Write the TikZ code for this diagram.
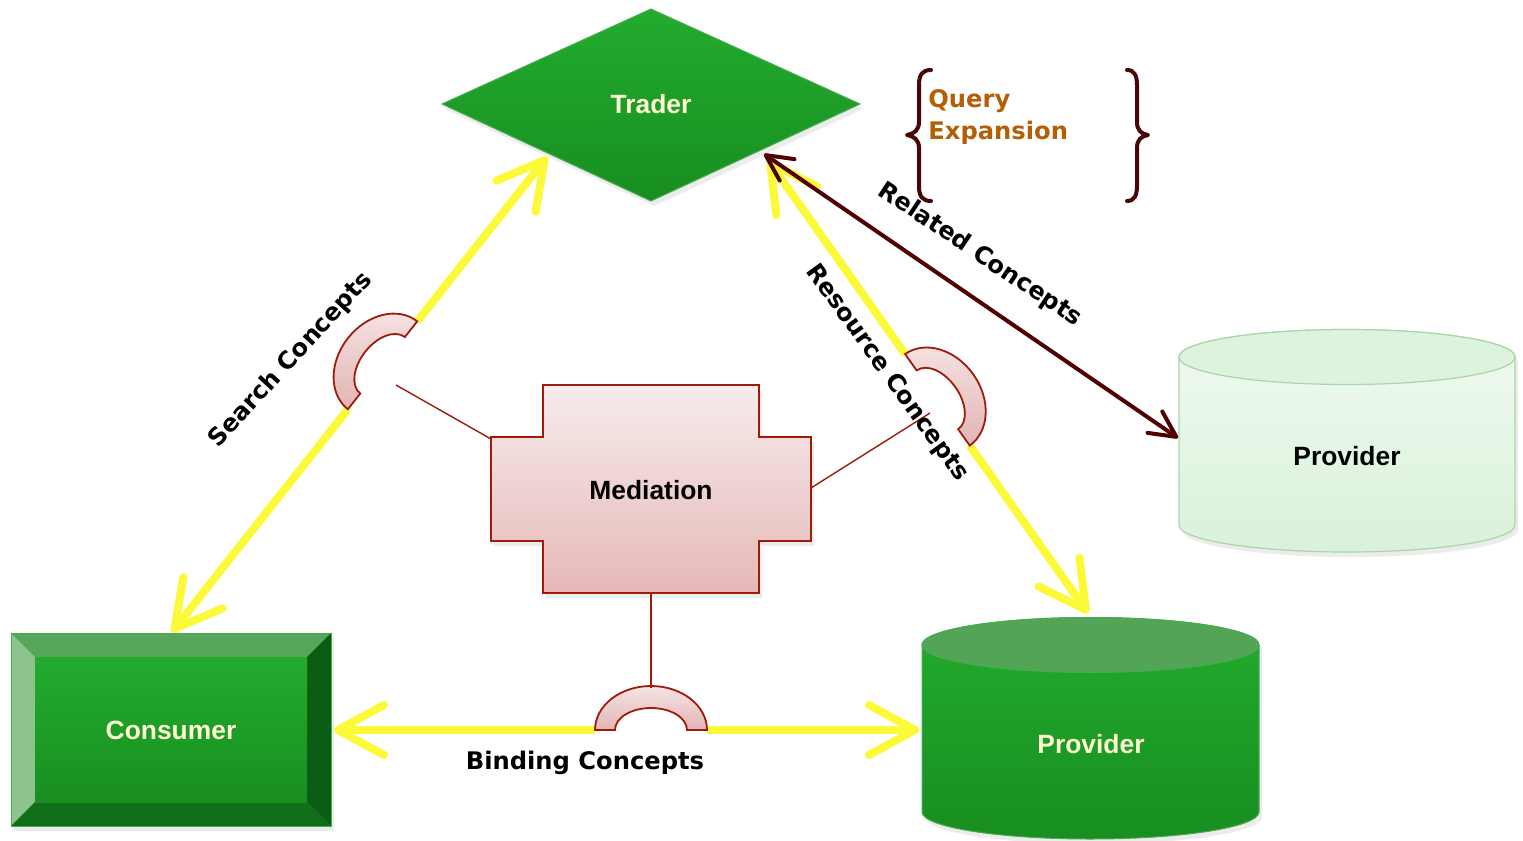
\documentclass[tikz,border=0pt]{standalone}
\usepackage{fontspec}
\setmainfont{Liberation Sans}
\newfontfamily\labfont{DejaVu Sans}
\usetikzlibrary{arrows.meta,calc,shadows}

\definecolor{ygreen}{RGB}{34,172,46}
\definecolor{dgreen}{RGB}{24,142,32}
\definecolor{capgreen}{RGB}{84,164,88}
\definecolor{edgegreen}{RGB}{70,172,78}
\definecolor{bevtop}{RGB}{87,166,91}
\definecolor{bevleft}{RGB}{140,195,142}
\definecolor{bevright}{RGB}{10,93,18}
\definecolor{bevbot}{RGB}{15,110,23}
\definecolor{ltop}{RGB}{240,250,240}
\definecolor{lbot}{RGB}{218,241,218}
\definecolor{lcap}{RGB}{222,243,222}
\definecolor{ledge}{RGB}{168,214,168}
\definecolor{medtop}{RGB}{247,236,236}
\definecolor{medbot}{RGB}{230,184,184}
\definecolor{medline}{RGB}{158,27,12}
\definecolor{ringtop}{RGB}{246,228,228}
\definecolor{ringbot}{RGB}{226,180,180}
\definecolor{arrowyellow}{RGB}{252,250,56}
\definecolor{mymaroon}{RGB}{80,0,0}
\definecolor{cream}{RGB}{255,251,210}
\definecolor{qorange}{RGB}{180,95,6}
\definecolor{bracecol}{RGB}{74,5,5}

\tikzset{
  ybarb/.tip={Straight Barb[length=23pt,width=25pt,round]},
  mbarb/.tip={Straight Barb[length=13pt,width=13pt,round]},
  nodetext/.style={font=\fontsize{13.2}{16}\selectfont\bfseries, text=cream, inner sep=0pt},
  darktext/.style={font=\fontsize{13.2}{16}\selectfont\bfseries, text=black, inner sep=0pt},
  labeltext/.style={font=\labfont\bfseries\fontsize{12.1}{14}\selectfont, inner sep=0pt},
  qtext/.style={font=\labfont\bfseries\fontsize{12.1}{15}\selectfont, text=qorange, inner sep=0pt},
  yarrow/.style={draw=arrowyellow, line width=4pt},
  marrow/.style={draw=mymaroon, line width=2pt},
  ringshape/.style={draw=medline, line width=0.9pt, top color=ringtop, bottom color=ringbot},
  medconn/.style={draw=medline, line width=0.7pt},
  shadowed/.style={drop shadow={opacity=0.15, shadow xshift=1.5pt, shadow yshift=-2.5pt}},
  bracestyle/.style={draw=bracecol, line width=2pt, line cap=round, line join=round},
}

\newcommand\hopring{%
  (28pt,0pt) arc[start angle=0,end angle=180,x radius=28pt,y radius=22pt]
  -- (-18pt,0pt) arc[start angle=180,end angle=0,x radius=18pt,y radius=11pt] -- cycle}

\begin{document}
\begin{tikzpicture}[x=0.5pt,y=-0.5pt]
\useasboundingbox (0,0) rectangle (1523,841);
\fill[white] (0,0) rectangle (1523,841);

% ---------- Trader ----------
\path[draw=edgegreen, line width=0.5pt, top color=ygreen, bottom color=dgreen, shadowed]
  (442,104) -- (651,9) -- (860,104) -- (651,201) -- cycle;
\node[nodetext] (trader) at (651,104) {Trader};

% ---------- Consumer ----------
\path[fill=bevtop, shadowed] (11,633) rectangle (331,826);
\fill[bevtop] (11,633) -- (331,633) -- (307,657) -- (35,657) -- cycle;
\fill[bevleft] (11,633) -- (35,657) -- (35,802) -- (11,826) -- cycle;
\fill[bevright] (331,633) -- (331,826) -- (307,802) -- (307,657) -- cycle;
\fill[bevbot] (11,826) -- (35,802) -- (307,802) -- (331,826) -- cycle;
\shade[top color=ygreen, bottom color=dgreen] (35,657) rectangle (307,802);
\draw[edgegreen, line width=0.5pt] (11,633) rectangle (331,826);
\node[nodetext] (consumer) at (171,730) {Consumer};

% ---------- Provider (green) ----------
\path[draw=edgegreen, line width=0.5pt, top color=ygreen, bottom color=dgreen, shadowed]
  (922,645) -- (922,812) arc[start angle=180,end angle=360,x radius=84.25pt,y radius=13.5pt]
  -- (1259,645) arc[start angle=0,end angle=180,x radius=84.25pt,y radius=13.75pt] -- cycle;
\draw[edgegreen, line width=0.5pt, fill=capgreen] (1090.5,645) ellipse[x radius=84.25pt, y radius=13.75pt];
\node[nodetext] (prov1) at (1091,744) {Provider};

% ---------- Provider (light) ----------
\path[draw=ledge, line width=0.6pt, top color=ltop, bottom color=lbot, shadowed]
  (1179,357) -- (1179,525) arc[start angle=180,end angle=360,x radius=84pt,y radius=13.5pt]
  -- (1515,357) arc[start angle=0,end angle=180,x radius=84pt,y radius=13.75pt] -- cycle;
\draw[ledge, line width=0.6pt, fill=lcap] (1347,357) ellipse[x radius=84pt, y radius=13.75pt];
\node[darktext] (prov2) at (1347,456) {Provider};

% ---------- Mediation ----------
\path[draw=medline, line width=1pt, top color=medtop, bottom color=medbot, shadowed]
  (543,385) -- (759,385) -- (759,437) -- (811,437) -- (811,541) -- (759,541) -- (759,593)
  -- (543,593) -- (543,541) -- (491,541) -- (491,437) -- (543,437) -- cycle;
\node[darktext] (med) at (651,490) {Mediation};

% ---------- Yellow arrows ----------
\coordinate (sA) at (172,632);
\coordinate (sB) at (547,157);
\coordinate (sH) at ($(sA)!(386,368)!(sB)$);
\draw[yarrow, {ybarb}-] (sA) -- ($(sH)!28pt!(sA)$);
\draw[yarrow, -{ybarb}] ($(sH)!28pt!(sB)$) -- (sB);

\coordinate (rA) at (768,160);
\coordinate (rB) at (1088,613);
\coordinate (rH) at ($(rA)!(940,398)!(rB)$);
\draw[yarrow, {ybarb}-] (rA) -- ($(rH)!28pt!(rA)$);
\draw[yarrow, -{ybarb}] ($(rH)!28pt!(rB)$) -- (rB);

\coordinate (bA) at (334,730);
\coordinate (bB) at (919,730);
\coordinate (bH) at (651,730);
\draw[yarrow, {ybarb}-] (bA) -- ($(bH)!28pt!(bA)$);
\draw[yarrow, -{ybarb}] ($(bH)!28pt!(bB)$) -- (bB);

% ---------- hop rings ----------
\begin{scope}[shift={(sH)}, rotate=51.71]
  \path[ringshape] \hopring;
\end{scope}
\begin{scope}[shift={(rH)}, rotate=-54.76]
  \path[ringshape] \hopring;
\end{scope}
\begin{scope}[shift={(bH)}]
  \path[ringshape] \hopring;
\end{scope}

% ---------- Related concepts arrow ----------
\coordinate (mA) at (764,154);
\coordinate (mB) at (1178,438);
\draw[marrow, {mbarb}-{mbarb}] (mA) -- (mB);

% ---------- Mediation connectors ----------
\coordinate (mL) at (396,385);
\coordinate (mR) at (930,413);
\coordinate (mD) at (651,688);
\draw[medconn] (491,439) -- (mL);
\draw[medconn] (811,488) -- (mR);
\draw[medconn] (med.center |- 0,593) -- (mD);

% ---------- Labels ----------
\node[labeltext, rotate=47.5] (lsearch) at (291,360) {Search Concepts};
\node[labeltext, rotate=-33.7] (lrelated) at (980,255) {Related Concepts};
\node[labeltext, rotate=-54.2] (lresource) at (887,373) {Resource Concepts};
\node[labeltext] (lbinding) at (585,763) {Binding Concepts};

% ---------- Query Expansion ----------
\draw[bracestyle] (931,70) .. controls (922,70) and (919,75) .. (919,85) -- (919,122)
  .. controls (919,130) and (914,134) .. (907,135) .. controls (914,136) and (919,140) .. (919,148)
  -- (919,186) .. controls (919,196) and (922,201) .. (931,201);
\draw[bracestyle] (1127,70) .. controls (1134,70) and (1137,75) .. (1137,85) -- (1137,122)
  .. controls (1137,130) and (1141,134) .. (1148,135) .. controls (1141,136) and (1137,140) .. (1137,148)
  -- (1137,186) .. controls (1137,196) and (1134,201) .. (1127,201);
\node[qtext, anchor=base west] (q1) at (928,107) {Query};
\node[qtext, anchor=base west] (q2) at (928,139) {Expansion};
\end{tikzpicture}
\end{document}
